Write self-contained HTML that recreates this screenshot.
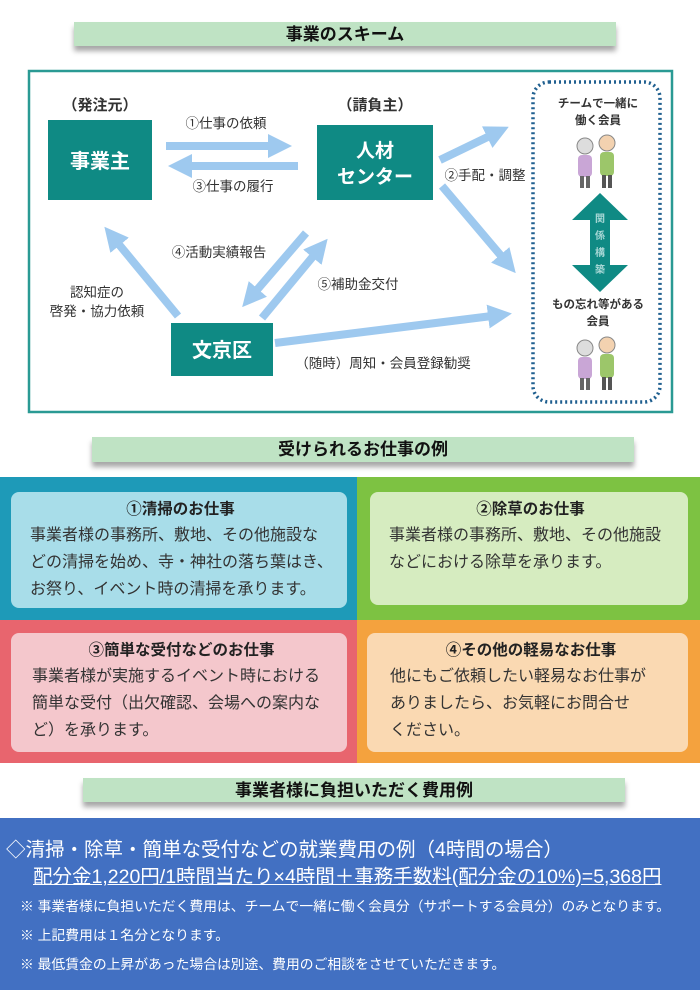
<!DOCTYPE html>
<html><head><meta charset="utf-8">
<style>
*{margin:0;padding:0;box-sizing:border-box}
body{width:700px;height:990px;background:#fff;position:relative;overflow:hidden;font-family:"Liberation Sans","Noto Sans CJK JP",sans-serif;color:#222}
.ban{position:absolute;background:#bfe3c4;box-shadow:0 5px 5px rgba(0,0,0,.35);text-align:center;font-weight:bold;font-size:17px;line-height:25px;color:#111}
.q{position:absolute}
.card{position:absolute;border-radius:8px;padding:8px 6px 8px 18px;font-size:16px;line-height:27px;color:#333;white-space:nowrap}
.card b{display:block;text-align:center;font-size:15.5px;line-height:24px;color:#222;margin-left:-10px}
.blue{position:absolute;left:0;top:818px;width:700px;height:172px;background:#4270c2;color:#fff;white-space:nowrap}
</style></head><body>
<div class="ban" style="left:74px;top:22px;width:542px;height:24px">事業のスキーム</div>

<svg style="position:absolute;left:0;top:0" width="700" height="420">
<defs><marker id="a" markerWidth="3" markerHeight="3" refX="1.5" refY="1.5" orient="auto"><path d="M0,0L3,1.5L0,3z" fill="#9ec9ef"/></marker></defs>
<rect x="29" y="71" width="643" height="341" fill="none" stroke="#2a9a94" stroke-width="2.5"/>
<rect x="533" y="82" width="127" height="320" rx="16" fill="none" stroke="#1f5f8f" stroke-width="3.5" stroke-dasharray="2 3"/>
<rect x="48" y="120" width="104" height="80" fill="#0f8a84"/>
<rect x="317" y="125" width="116" height="75" fill="#0f8a84"/>
<rect x="171" y="323" width="102" height="53" fill="#0f8a84"/>
<g stroke="#9ec9ef" stroke-width="8" fill="none" marker-end="url(#a)">
<line x1="166" y1="146" x2="280" y2="146"/>
<line x1="298" y1="166" x2="180" y2="166"/>
<line x1="440" y1="160" x2="498" y2="132"/>
<line x1="442" y1="186" x2="508" y2="264"/>
<line x1="178" y1="316" x2="112" y2="236"/>
<line x1="306" y1="233" x2="250" y2="298"/>
<line x1="262" y1="318" x2="320" y2="248"/>
<line x1="275" y1="343" x2="500" y2="315"/>
</g>
<path d="M600 193 L628 220 L610 220 L610 265 L628 265 L600 292 L572 265 L590 265 L590 220 L572 220 Z" fill="#0f8a84"/>
<g font-family="Liberation Sans,Noto Sans CJK JP,sans-serif" text-anchor="middle">
<text x="100" y="110" font-size="15" font-weight="bold" fill="#333">（発注元）</text>
<text x="375" y="110" font-size="15" font-weight="bold" fill="#333">（請負主）</text>
<text x="100" y="168" font-size="20" font-weight="bold" fill="#fff">事業主</text>
<text x="375" y="157" font-size="19" font-weight="bold" fill="#fff">人材</text>
<text x="375" y="183" font-size="19" font-weight="bold" fill="#fff">センター</text>
<text x="222" y="357" font-size="20" font-weight="bold" fill="#fff">文京区</text>
<g font-size="13.5" fill="#333">
<text x="226" y="128">①仕事の依頼</text>
<text x="233" y="191">③仕事の履行</text>
<text x="485" y="180">②手配・調整</text>
<text x="219" y="257">④活動実績報告</text>
<text x="358" y="289">⑤補助金交付</text>
<text x="97" y="297">認知症の</text>
<text x="97" y="316">啓発・協力依頼</text>
<text x="383" y="368">（随時）周知・会員登録勧奨</text>
</g>
<g font-size="11.5" font-weight="bold" fill="#333">
<text x="598" y="107">チームで一緒に</text>
<text x="598" y="124">働く会員</text>
<text x="598" y="308">もの忘れ等がある</text>
<text x="598" y="325">会員</text>
</g>
<g font-size="10" font-weight="bold" fill="#a8d8d6">
<text x="600" y="222">関</text><text x="600" y="239">係</text><text x="600" y="256">構</text><text x="600" y="273">築</text>
</g>
</g>
<g>
<circle cx="585" cy="146" r="8" fill="#ddd" stroke="#888"/><rect x="578" y="155" width="14" height="22" rx="4" fill="#c9a6d6"/><rect x="580" y="176" width="4" height="12" fill="#666"/><rect x="586" y="176" width="4" height="12" fill="#666"/>
<circle cx="607" cy="143" r="8" fill="#f3d2b0" stroke="#888"/><rect x="600" y="152" width="14" height="24" rx="4" fill="#9cc66a"/><rect x="602" y="175" width="4" height="13" fill="#555"/><rect x="608" y="175" width="4" height="13" fill="#555"/>
<circle cx="585" cy="348" r="8" fill="#ddd" stroke="#888"/><rect x="578" y="357" width="14" height="22" rx="4" fill="#c9a6d6"/><rect x="580" y="378" width="4" height="12" fill="#666"/><rect x="586" y="378" width="4" height="12" fill="#666"/>
<circle cx="607" cy="345" r="8" fill="#f3d2b0" stroke="#888"/><rect x="600" y="354" width="14" height="24" rx="4" fill="#9cc66a"/><rect x="602" y="377" width="4" height="13" fill="#555"/><rect x="608" y="377" width="4" height="13" fill="#555"/>
</g>
</svg>

<div class="ban" style="left:92px;top:437px;width:542px;height:25px">受けられるお仕事の例</div>

<div class="q" style="left:0;top:477px;width:357px;height:143px;background:#1e9ab8"></div>
<div class="q" style="left:357px;top:477px;width:343px;height:143px;background:#7dc242"></div>
<div class="q" style="left:0;top:620px;width:357px;height:143px;background:#e8656e"></div>
<div class="q" style="left:357px;top:620px;width:343px;height:143px;background:#f4a23e"></div>
<div class="card" style="left:11px;top:492px;width:336px;height:116px;background:#a8dde9;padding-top:6px;padding-left:19px"><b>①清掃のお仕事</b>事業者様の事務所、敷地、その他施設な<br>どの清掃を始め、寺・神社の落ち葉はき、<br>お祭り、イベント時の清掃を承ります。</div>
<div class="card" style="left:370px;top:492px;width:318px;height:113px;background:#d6ecc0;padding-top:6px;padding-left:19px"><b>②除草のお仕事</b>事業者様の事務所、敷地、その他施設<br>などにおける除草を承ります。</div>
<div class="card" style="left:11px;top:633px;width:336px;height:119px;background:#f4c7cc;padding-top:6px;padding-left:21px"><b>③簡単な受付などのお仕事</b>事業者様が実施するイベント時における<br>簡単な受付（出欠確認、会場への案内な<br>ど）を承ります。</div>
<div class="card" style="left:367px;top:633px;width:321px;height:119px;background:#fad9b2;padding-top:6px;padding-left:23px"><b>④その他の軽易なお仕事</b>他にもご依頼したい軽易なお仕事が<br>ありましたら、お気軽にお問合せ<br>ください。</div>

<div class="ban" style="left:83px;top:778px;width:542px;height:24px">事業者様に負担いただく費用例</div>

<div class="blue">
<div style="position:absolute;left:6px;top:19px;font-size:19.5px;line-height:26px">◇清掃・除草・簡単な受付などの就業費用の例（4時間の場合）</div>
<div style="position:absolute;left:33px;top:46px;font-size:19.5px;line-height:26px;text-decoration:underline">配分金1,220円/1時間当たり×4時間＋事務手数料(配分金の10%)=5,368円</div>
<div style="position:absolute;left:20px;top:80px;font-size:13.8px;line-height:17px">※ 事業者様に負担いただく費用は、チームで一緒に働く会員分（サポートする会員分）のみとなります。</div>
<div style="position:absolute;left:20px;top:109px;font-size:13.8px;line-height:17px">※ 上記費用は１名分となります。</div>
<div style="position:absolute;left:20px;top:138px;font-size:13.8px;line-height:17px">※ 最低賃金の上昇があった場合は別途、費用のご相談をさせていただきます。</div>
</div>
</body></html>
